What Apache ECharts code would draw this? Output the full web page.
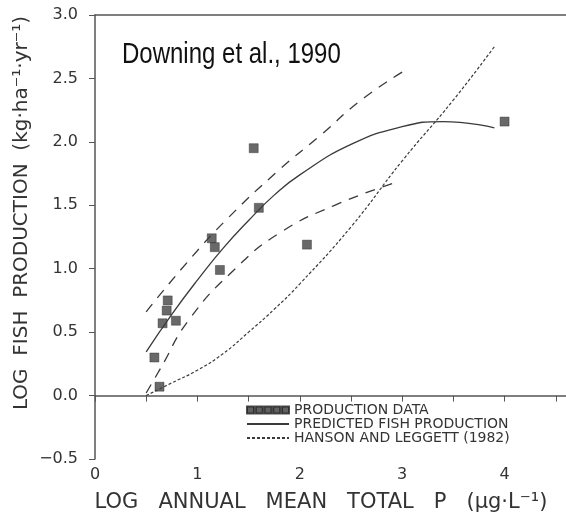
<!DOCTYPE html>
<html>
<head>
<meta charset="utf-8">
<script src="https://cdn.jsdelivr.net/npm/echarts@6/dist/echarts.min.js"></script>
<style>
  html, body { margin: 0; padding: 0; background: #fff; }
  #chart { width: 566px; height: 525px; }
</style>
</head>
<body>
<div id="chart"></div>
<script>
// measured data points (log TP, log fish production)
const prodData = [
  [0.58, 0.30], [0.63, 0.07], [0.66, 0.57], [0.70, 0.67], [0.71, 0.75],
  [0.79, 0.59], [1.14, 1.24], [1.17, 1.17], [1.22, 0.99], [1.55, 1.95],
  [1.60, 1.48], [2.07, 1.19], [4.00, 2.16]
]
// predicted fish production (solid)
const predicted = [
  [0.50, 0.345], [0.75, 0.64], [1.00, 0.91], [1.25, 1.16], [1.50, 1.38],
  [1.75, 1.58], [2.00, 1.74], [2.50, 1.98], [3.00, 2.12], [3.40, 2.16], [3.90, 2.11]
]
// confidence limits (long dashes)
const upperLimit = [
  [0.50, 0.66], [0.90, 1.05], [1.30, 1.40], [1.80, 1.78], [2.20, 2.05], [2.60, 2.33], [3.00, 2.55]
]
const lowerLimit = [
  [0.50, 0.02], [0.63, 0.20], [0.92, 0.60], [1.37, 1.00], [1.80, 1.28], [2.34, 1.50], [2.94, 1.68]
]
// Hanson and Leggett (1982) (short dashes)
const hanson = [
  [0.50, 0.00], [0.75, 0.10], [1.00, 0.20], [1.25, 0.33], [1.50, 0.50], [1.75, 0.68],
  [2.00, 0.88], [2.50, 1.33], [3.00, 1.85], [3.50, 2.33], [3.90, 2.75]
]
const xTickLabels = ['0', '1', '2', '3', '4']

const chart = echarts.init(document.getElementById('chart'))

const axisColor = '#555'
const lineColor = '#3a3a3a'
const tickFont = 'DejaVu Sans'

// five little squares for the legend
const fiveSquares = 'path://M0,0H8V8H0Z M10,0H18V8H10Z M20,0H28V8H20Z M30,0H38V8H30Z M40,0H48V8H40Z'
const hideSymbol = { opacity: 0, color: 'transparent', borderColor: 'transparent' }

const option = {
  backgroundColor: '#fff',
  animation: false,
  grid: { left: 95, right: 0, top: 15, bottom: 66 },
  xAxis: [
    {
      type: 'value',
      min: 0,
      max: 4.6,
      interval: 0.5,
      splitLine: { show: false },
      axisLine: { lineStyle: { color: axisColor, width: 1.5 } },
      axisTick: { inside: false, length: 6, lineStyle: { color: axisColor } },
      axisLabel: {
        color: '#333',
        fontFamily: tickFont,
        fontSize: 16,
        margin: 8,
        showMaxLabel: false,
        formatter: v => (Number.isInteger(v) && xTickLabels.includes(String(v))) ? String(v) : ''
      }
    },
    {
      type: 'value',
      position: 'top',
      min: 0,
      max: 4.6,
      axisLine: { show: true, lineStyle: { color: axisColor, width: 1.5 } },
      axisTick: { show: false },
      axisLabel: { show: false },
      splitLine: { show: false }
    }
  ],
  yAxis: {
    type: 'value',
    min: -0.5,
    max: 3.0,
    interval: 0.5,
    splitLine: { show: false },
    axisLine: { show: true, lineStyle: { color: axisColor, width: 1.5 } },
    axisTick: { show: true, length: 6, lineStyle: { color: axisColor } },
    axisLabel: {
      color: '#333',
      fontFamily: tickFont,
      fontSize: 16,
      margin: 17,
      formatter: v => v.toFixed(1).replace('-', '\u2212')
    }
  },
  legend: {
    orient: 'vertical',
    left: 241,
    top: 398,
    itemGap: 0,
    itemWidth: 42,
    itemHeight: 10,
    textStyle: { fontFamily: 'DejaVu Sans', fontSize: 14, lineHeight: 14, color: '#333' },
    data: [
      { name: 'PRODUCTION DATA', icon: fiveSquares, itemStyle: { color: '#3a3a3a' } },
      { name: 'PREDICTED FISH PRODUCTION', itemStyle: hideSymbol },
      { name: 'HANSON AND LEGGETT (1982)', itemStyle: hideSymbol }
    ]
  },
  graphic: [
    {
      type: 'text',
      x: 122,
      y: 40,
      scaleX: 0.8,
      style: {
        text: 'Downing et al., 1990',
        font: '30px "Liberation Sans Narrow", "Liberation Sans", sans-serif',
        fill: '#111',
        align: 'left',
        verticalAlign: 'top'
      }
    },
    {
      type: 'text',
      x: 22,
      y: 213,
      rotation: Math.PI / 2,
      style: {
        text: 'LOG  FISH  PRODUCTION  (kg\u00b7ha\u207b\u00b9\u00b7yr\u207b\u00b9)',
        font: '20px "DejaVu Sans"',
        fill: '#333',
        align: 'center',
        verticalAlign: 'middle'
      }
    },
    {
      type: 'text',
      x: 321,
      y: 503,
      style: {
        text: 'LOG   ANNUAL   MEAN   TOTAL   P   (\u03bcg\u00b7L\u207b\u00b9)',
        font: '21px "DejaVu Sans"',
        fill: '#333',
        align: 'center',
        verticalAlign: 'middle'
      }
    }
  ],
  series: [
    {
      name: 'PRODUCTION DATA',
      type: 'scatter',
      symbol: 'rect',
      symbolSize: 9,
      itemStyle: { color: '#444', borderColor: '#222', borderWidth: 0.5 },
      data: prodData
    },
    {
      name: 'PREDICTED FISH PRODUCTION',
      type: 'line',
      smooth: true,
      symbol: 'none',
      lineStyle: { color: lineColor, width: 1.3 },
      itemStyle: { color: lineColor },
      data: predicted
    },
    {
      name: 'upper',
      type: 'line',
      smooth: true,
      symbol: 'none',
      lineStyle: { color: lineColor, width: 1.3, type: [10, 8] },
      data: upperLimit
    },
    {
      name: 'lower',
      type: 'line',
      smooth: true,
      symbol: 'none',
      lineStyle: { color: lineColor, width: 1.3, type: [10, 8] },
      data: lowerLimit
    },
    {
      name: 'HANSON AND LEGGETT (1982)',
      type: 'line',
      smooth: true,
      symbol: 'none',
      lineStyle: { color: lineColor, width: 1.2, type: [3, 2] },
      itemStyle: { color: lineColor },
      data: hanson
    }
  ]
}

chart.setOption(option)
</script>
</body>
</html>
